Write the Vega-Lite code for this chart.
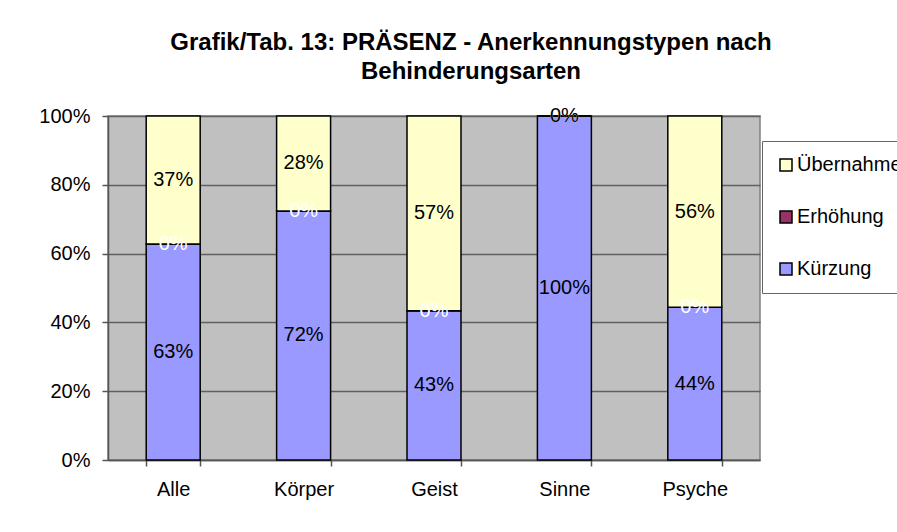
{
  "$schema": "https://vega.github.io/schema/vega-lite/v6.json",
  "width": 652,
  "height": 344,
  "autosize": {"type": "none"},
  "padding": {"left": 108, "top": 116, "right": 137, "bottom": 72},
  "background": "white",
  "title": {
    "text": ["Grafik/Tab. 13: PRÄSENZ - Anerkennungstypen nach", "Behinderungsarten"],
    "font": "Liberation Sans",
    "fontSize": 24,
    "fontWeight": "bold",
    "color": "black",
    "anchor": "middle",
    "dx": 37,
    "offset": 22,
    "lineHeight": 29
  },
  "config": {
    "view": {"fill": "#C0C0C0", "stroke": "#808080", "strokeWidth": 1.5},
    "axis": {
      "labelFont": "Liberation Sans",
      "labelFontSize": 20,
      "labelColor": "black",
      "domainColor": "#555555",
      "domainWidth": 1.5,
      "tickColor": "#555555",
      "tickWidth": 1.5,
      "title": null
    },
    "legend": {
      "labelFont": "Liberation Sans",
      "labelFontSize": 20,
      "labelColor": "black"
    }
  },
  "data": {
    "values": [
      {"cat": "Alle", "typ": "Kürzung", "val": 0.628, "ord": 1},
      {"cat": "Alle", "typ": "Erhöhung", "val": 0, "ord": 2},
      {"cat": "Alle", "typ": "Übernahme", "val": 0.372, "ord": 3},
      {"cat": "Körper", "typ": "Kürzung", "val": 0.724, "ord": 1},
      {"cat": "Körper", "typ": "Erhöhung", "val": 0, "ord": 2},
      {"cat": "Körper", "typ": "Übernahme", "val": 0.276, "ord": 3},
      {"cat": "Geist", "typ": "Kürzung", "val": 0.434, "ord": 1},
      {"cat": "Geist", "typ": "Erhöhung", "val": 0, "ord": 2},
      {"cat": "Geist", "typ": "Übernahme", "val": 0.566, "ord": 3},
      {"cat": "Sinne", "typ": "Kürzung", "val": 1.0, "ord": 1},
      {"cat": "Sinne", "typ": "Erhöhung", "val": 0, "ord": 2},
      {"cat": "Sinne", "typ": "Übernahme", "val": 0, "ord": 3},
      {"cat": "Psyche", "typ": "Kürzung", "val": 0.444, "ord": 1},
      {"cat": "Psyche", "typ": "Erhöhung", "val": 0, "ord": 2},
      {"cat": "Psyche", "typ": "Übernahme", "val": 0.556, "ord": 3}
    ]
  },
  "transform": [
    {"stack": "val", "groupby": ["cat"], "sort": [{"field": "ord", "order": "ascending"}], "as": ["y0", "y1"]},
    {"calculate": "(datum.y0 + datum.y1) / 2", "as": "mid"}
  ],
  "encoding": {
    "x": {
      "field": "cat",
      "type": "nominal",
      "sort": ["Alle", "Körper", "Geist", "Sinne", "Psyche"],
      "scale": {"paddingInner": 0.586, "paddingOuter": 0.293},
      "axis": {"labelAngle": 0, "tickBand": "extent", "tickSize": 6, "labelPadding": 13, "grid": false}
    }
  },
  "layer": [
    {
      "mark": {"type": "bar", "stroke": "black", "strokeWidth": 1.5},
      "encoding": {
        "y": {
          "field": "y0",
          "type": "quantitative",
          "scale": {"domain": [0, 1], "nice": false},
          "axis": {
            "values": [0, 0.2, 0.4, 0.6, 0.8, 1],
            "format": ".0%",
            "tickSize": 6,
            "labelPadding": 12,
            "grid": true,
            "gridColor": "#606060",
            "gridWidth": 1.5
          }
        },
        "y2": {"field": "y1"},
        "color": {
          "field": "typ",
          "type": "nominal",
          "scale": {"domain": ["Übernahme", "Erhöhung", "Kürzung"], "range": ["#FFFFCC", "#993366", "#9999FF"]},
          "legend": {
            "title": null,
            "orient": "none",
            "legendX": 654,
            "legendY": 25,
            "direction": "vertical",
            "fillColor": "white",
            "strokeColor": "#666666",
            "padding": 14,
            "rowPadding": 32,
            "symbolType": "square",
            "symbolSize": 144,
            "symbolStrokeColor": "black",
            "symbolStrokeWidth": 1.5,
            "labelLimit": 0,
            "labelOffset": 1
          }
        }
      }
    },
    {
      "transform": [{"filter": "datum.typ === 'Erhöhung'"}],
      "mark": {"type": "text", "font": "Liberation Sans", "fontSize": 20, "color": "white", "baseline": "middle"},
      "encoding": {
        "y": {"field": "mid", "type": "quantitative"},
        "text": {"field": "val", "type": "quantitative", "format": ".0%"}
      }
    },
    {
      "transform": [{"filter": "datum.typ !== 'Erhöhung'"}],
      "mark": {"type": "text", "font": "Liberation Sans", "fontSize": 20, "color": "black", "baseline": "middle"},
      "encoding": {
        "y": {"field": "mid", "type": "quantitative"},
        "text": {"field": "val", "type": "quantitative", "format": ".0%"}
      }
    }
  ]
}
